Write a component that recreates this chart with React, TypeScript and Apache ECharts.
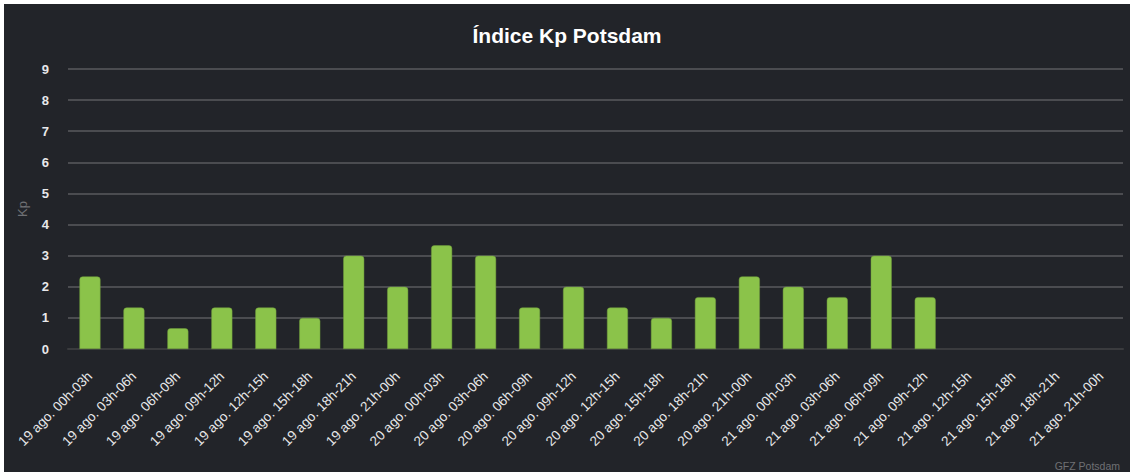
import React, { useEffect, useRef } from "react";
import * as echarts from "echarts";

const categories: string[] = [
  "19 ago. 00h-03h", "19 ago. 03h-06h", "19 ago. 06h-09h", "19 ago. 09h-12h",
  "19 ago. 12h-15h", "19 ago. 15h-18h", "19 ago. 18h-21h", "19 ago. 21h-00h",
  "20 ago. 00h-03h", "20 ago. 03h-06h", "20 ago. 06h-09h", "20 ago. 09h-12h",
  "20 ago. 12h-15h", "20 ago. 15h-18h", "20 ago. 18h-21h", "20 ago. 21h-00h",
  "21 ago. 00h-03h", "21 ago. 03h-06h", "21 ago. 06h-09h", "21 ago. 09h-12h",
  "21 ago. 12h-15h", "21 ago. 15h-18h", "21 ago. 18h-21h", "21 ago. 21h-00h",
];

const kpValues: (number | null)[] = [
  2.333, 1.333, 0.667, 1.333, 1.333, 1.0, 3.0, 2.0,
  3.333, 3.0, 1.333, 2.0, 1.333, 1.0, 1.667, 2.333,
  2.0, 1.667, 3.0, 1.667, null, null, null, null,
];

const yTicks = { min: 0, max: 9, interval: 1 };

const FONT = "Liberation Sans, Arial, sans-serif";

export default function App() {
  const ref = useRef<HTMLDivElement>(null);
  useEffect(() => {
    if (!ref.current) return;
    const chart = echarts.init(ref.current, undefined, { renderer: "svg" });
    chart.setOption({
      animation: false,
      backgroundColor: "#222429",
      title: {
        text: "Índice Kp Potsdam",
        left: "center",
        top: 16,
        textStyle: {
          color: "#ffffff",
          fontSize: 21,
          fontWeight: "bold",
          fontFamily: FONT,
        },
      },
      grid: { left: 64, right: 7, top: 65, bottom: 123, containLabel: false },
      xAxis: {
        type: "category",
        data: categories,
        axisLine: { show: true, lineStyle: { color: "#3a3b3e", width: 2 } },
        axisTick: { show: false },
        axisLabel: {
          rotate: 45,
          interval: 0,
          color: "#e8e8ea",
          fontSize: 13.5,
          margin: 25,
          fontFamily: FONT,
        },
      },
      yAxis: {
        type: "value",
        min: yTicks.min,
        max: yTicks.max,
        interval: yTicks.interval,
        name: "Kp",
        nameLocation: "middle",
        nameGap: 39,
        nameTextStyle: {
          color: "#6f7074",
          fontSize: 13,
          fontFamily: FONT,
        },
        axisLine: { show: false },
        axisTick: { show: false },
        axisLabel: {
          color: "#e8e8ea",
          fontSize: 13,
          fontWeight: "bold",
          margin: 19,
          fontFamily: FONT,
        },
        splitLine: { lineStyle: { color: "#4b4c50", width: 2 } },
      },
      series: [
        {
          type: "bar",
          data: kpValues,
          barWidth: 21,
          itemStyle: {
            color: "#8bc34a",
            borderColor: "#6f9a3c",
            borderWidth: 0.5,
            borderRadius: [3, 3, 0, 0],
          },
        },
      ],
      graphic: [
        {
          type: "text",
          right: 10,
          bottom: 1,
          style: {
            text: "GFZ Potsdam",
            fill: "#6f7074",
            fontSize: 10.5,
            fontFamily: FONT,
          },
        },
      ],
    });
    return () => chart.dispose();
  }, []);
  return (
    <div
      ref={ref}
      style={{ position: "fixed", left: 4, top: 4, width: 1126, height: 468 }}
    />
  );
}
